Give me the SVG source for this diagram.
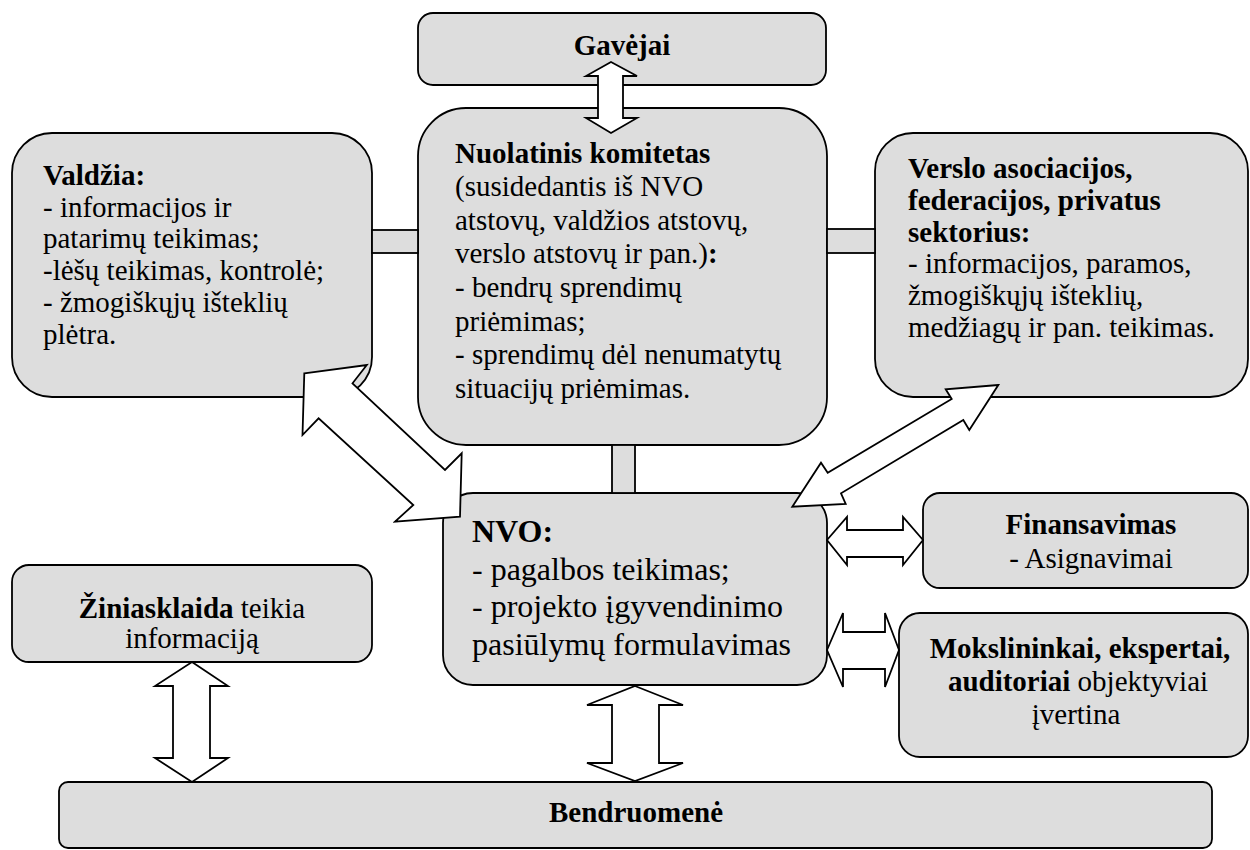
<svg xmlns="http://www.w3.org/2000/svg" width="1250" height="850" viewBox="0 0 1250 850">
<style>
.box{fill:#dddddd;stroke:#000;stroke-width:1.8}
.bar{fill:#dddddd;stroke:#000;stroke-width:1.8}
.arr{fill:#fff;stroke:#000;stroke-width:1.8;stroke-linejoin:miter}
text{font-family:'Liberation Serif','Times New Roman',Times,'DejaVu Serif',serif;font-size:29px;fill:#000}
.b{font-weight:bold}
.c{text-anchor:middle}
.n{font-size:32px}
</style>
<rect width="1250" height="850" fill="#fff"/>
<g id="gavejai">
<rect class="box" x="418" y="13" width="408" height="72" rx="15"/>
<text class="b c" x="622" y="55">Gavėjai</text>
</g>
<g id="valdzia">
<rect class="box" x="12" y="133" width="360" height="264" rx="40"/>
<text x="43" y="185"><tspan class="b">Valdžia:</tspan></text>
<text x="43" y="216.7">- informacijos ir</text>
<text x="43" y="248.4">patarimų teikimas;</text>
<text x="43" y="280.1">-lėšų teikimas, kontrolė;</text>
<text x="43" y="311.8">- žmogiškųjų išteklių</text>
<text x="43" y="343.5">plėtra.</text>
</g>
<g id="komitetas">
<rect class="box" x="418" y="108" width="409" height="337" rx="48"/>
<text class="b" x="455" y="162.5">Nuolatinis komitetas</text>
<text x="455" y="196.1">(susidedantis iš NVO</text>
<text x="455" y="229.7">atstovų, valdžios atstovų,</text>
<text x="455" y="263.3">verslo atstovų ir pan.)<tspan class="b">:</tspan></text>
<text x="455" y="296.9">- bendrų sprendimų</text>
<text x="455" y="330.5">priėmimas;</text>
<text x="455" y="364.1">- sprendimų dėl nenumatytų</text>
<text x="455" y="397.7">situacijų priėmimas.</text>
</g>
<g id="verslo">
<rect class="box" x="875" y="133" width="373" height="264" rx="38"/>
<text class="b" x="908" y="178.3">Verslo asociacijos,</text>
<text class="b" x="908" y="210">federacijos, privatus</text>
<text class="b" x="908" y="241.7">sektorius:</text>
<text x="908" y="273.4">- informacijos, paramos,</text>
<text x="908" y="305.1">žmogiškųjų išteklių,</text>
<text x="908" y="336.8">medžiagų ir pan. teikimas.</text>
</g>
<g id="nvo">
<rect class="box" x="443" y="493" width="384" height="192" rx="30"/>
<text class="b n" x="472" y="541.7">NVO:</text>
<text class="n" x="472" y="579.5">- pagalbos teikimas;</text>
<text class="n" x="472" y="617.3">- projekto įgyvendinimo</text>
<text class="n" x="472" y="655">pasiūlymų formulavimas</text>
</g>
<g id="finansavimas">
<rect class="box" x="923" y="493" width="325" height="95" rx="17"/>
<text class="b c" x="1091" y="534">Finansavimas</text>
<text class="c" x="1091" y="568.3">- Asignavimai</text>
</g>
<g id="mokslininkai">
<rect class="box" x="899" y="613" width="349" height="144" rx="21"/>
<text class="b c" x="1080" y="658">Mokslininkai, ekspertai,</text>
<text class="c" x="1078" y="691"><tspan class="b">auditoriai</tspan> objektyviai</text>
<text class="c" x="1076" y="724">įvertina</text>
</g>
<g id="ziniasklaida">
<rect class="box" x="12" y="565" width="360" height="97" rx="17"/>
<text class="c" x="192" y="617.5"><tspan class="b">Žiniasklaida</tspan> teikia</text>
<text class="c" x="192" y="648">informaciją</text>
</g>
<g id="bendruomene">
<rect class="box" x="59" y="782" width="1153" height="66" rx="9"/>
<text class="b c" x="636" y="821.7">Bendruomenė</text>
</g>
<g id="connectors">
<rect class="bar" x="372" y="230" width="46" height="23"/>
<rect class="bar" x="827" y="229" width="48" height="24"/>
<rect class="bar" x="612" y="445" width="23" height="48"/>
<polygon class="arr" points="611,62 637,76 623,76 623,118 637,118 611,133 586,118 598,118 598,76 586,76"/>
<polygon class="arr" points="304.3,373.3 366.8,365 352.5,383.3 445,470 461.7,453.3 460,516.7 395,521.7 413.3,505 318.6,418.3 302.5,435"/>
<polygon class="arr" points="998.3,385 945.7,389.3 951.7,399 827.7,472.7 821,462.7 792.3,506.7 845.7,504 841,493.3 963.3,420 969.3,430"/>
<polygon class="arr" points="827,540 847,517 847,530 903,530 903,517 923,540 903,565 903,557 847,557 847,565"/>
<polygon class="arr" points="827,650 843,613 843,632 885,632 885,613 899,650 885,687 885,669 843,669 843,687"/>
<polygon class="arr" points="192,662 228,686 210,686 210,758 228,758 192,782 155,758 173,758 173,686 155,686"/>
<polygon class="arr" points="635,686 683,705 659,705 659,763 683,763 635,781 587,763 612,763 612,705 587,705"/>
</g>
</svg>
